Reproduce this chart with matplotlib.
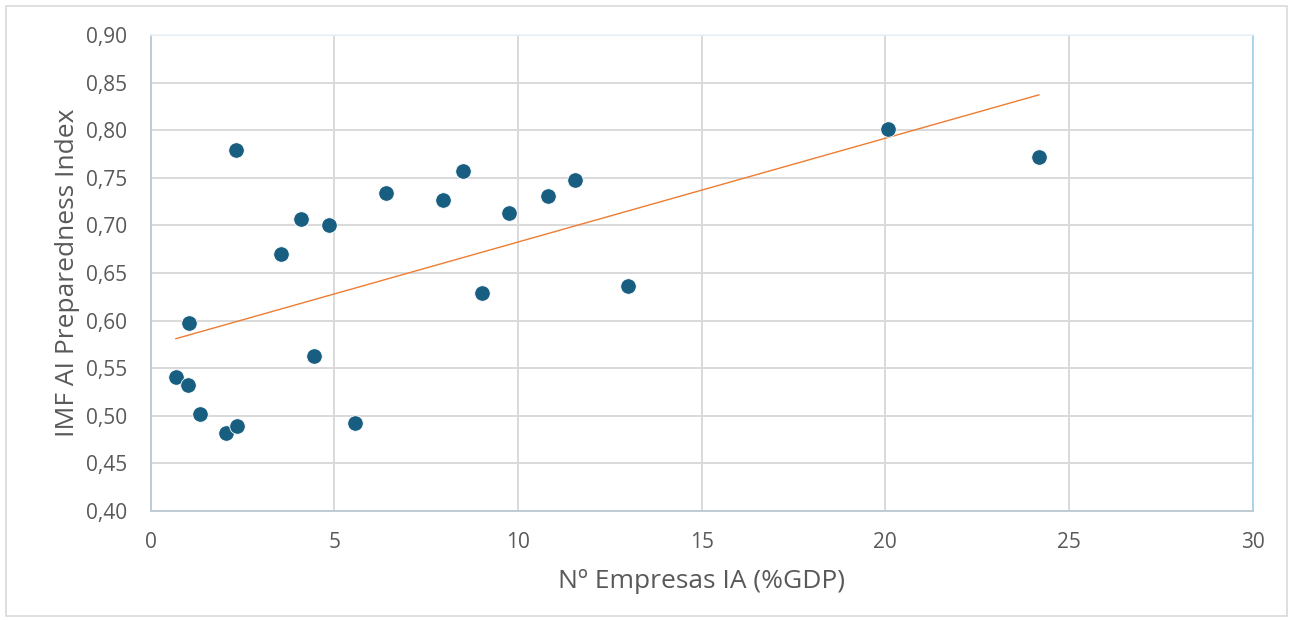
import matplotlib
matplotlib.use("Agg")
import matplotlib.pyplot as plt
import numpy as np
from matplotlib.ticker import FuncFormatter, MultipleLocator
from matplotlib.patches import Rectangle

# Data
empresas_ia = [0.69, 1.05, 1.02, 1.35, 2.05, 2.35, 2.33, 3.55, 4.10, 4.45, 4.86,
               5.57, 6.41, 7.96, 8.50, 9.02, 9.76, 10.82, 11.55, 12.99, 20.07, 24.18]
ai_index = [0.541, 0.597, 0.532, 0.502, 0.482, 0.489, 0.779, 0.670, 0.707, 0.563, 0.700,
            0.492, 0.734, 0.727, 0.757, 0.629, 0.713, 0.731, 0.748, 0.636, 0.801, 0.772]

x_label = "Nº Empresas IA (%GDP)"
y_label = "IMF AI Preparedness Index"

plt.rcParams['font.family'] = ['Open Sans', 'DejaVu Sans']

W, H = 1293, 620
fig = plt.figure(figsize=(W / 100, H / 100), dpi=100)
fig.patch.set_facecolor("white")
fig.add_artist(Rectangle((6 / W, 4 / H), (W - 12) / W, (H - 10) / H,
                         transform=fig.transFigure, fill=False,
                         edgecolor="#D9D9D9", linewidth=1.2))

ax = fig.add_axes([150.5 / W, 1 - 511 / H, (1252.7 - 150.5) / W, (511 - 35) / H])

x = np.array(empresas_ia)
y = np.array(ai_index)

# Linear trendline (Excel-like), spanning data x range
m, b = np.polyfit(x, y, 1)
xs = np.array([x.min(), x.max()])
ax.plot(xs, m * xs + b, color="#ED7D31", linewidth=1.0, zorder=3)

ax.scatter(x, y, s=125, color="#175E80", edgecolors="white", linewidths=0.6, zorder=4)

ax.set_xlim(0, 30)
ax.set_ylim(0.40, 0.90)
ax.xaxis.set_major_locator(MultipleLocator(5))
ax.yaxis.set_major_locator(MultipleLocator(0.05))
ax.yaxis.set_major_formatter(FuncFormatter(lambda v, p: f"{v:.2f}".replace(".", ",")))
ax.xaxis.set_major_formatter(FuncFormatter(lambda v, p: f"{v:.0f}"))

ax.grid(True, color="#D9D9D9", linewidth=1.4, zorder=0)
ax.set_axisbelow(True)
ax.tick_params(axis="both", length=0, labelsize=15, labelcolor="#595959")
ax.tick_params(axis="y", pad=17)
ax.tick_params(axis="x", pad=15)

ax.spines["left"].set_color("#BFCAD2")
ax.spines["bottom"].set_color("#BFCAD2")
ax.spines["left"].set_linewidth(1.4)
ax.spines["bottom"].set_linewidth(1.4)
ax.spines["right"].set_color("#9DD0EC")
ax.spines["right"].set_linewidth(1.2)
ax.spines["top"].set_color("#EAF3F9")
ax.spines["top"].set_linewidth(1.2)

ax.set_xlabel(x_label, fontsize=19, color="#595959", labelpad=12)
ax.set_ylabel(y_label, fontsize=19, color="#595959", labelpad=4)

fig.savefig("out.png", dpi=100, facecolor="white")
